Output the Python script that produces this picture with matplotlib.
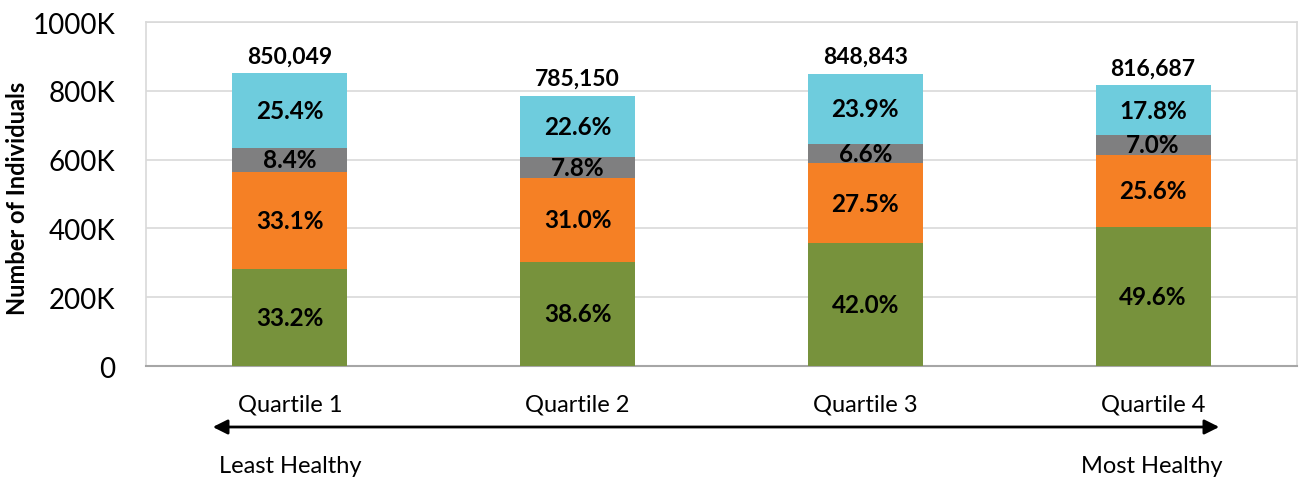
import numpy as np
import matplotlib.pyplot as plt
from matplotlib.patches import FancyArrowPatch

plt.rcParams['font.family'] = ['Lato', 'DejaVu Sans']

# data
quartiles = ['Quartile 1', 'Quartile 2', 'Quartile 3', 'Quartile 4']
totals = np.array([850049, 785150, 848843, 816687])
pct_green = np.array([33.2, 38.6, 42.0, 49.6])
pct_orange = np.array([33.1, 31.0, 27.5, 25.6])
pct_gray = np.array([8.4, 7.8, 6.6, 7.0])
pct_cyan = np.array([25.4, 22.6, 23.9, 17.8])

colors = ['#77923C', '#F58025', '#7F7F80', '#6ECCDD']
series = [pct_green, pct_orange, pct_gray, pct_cyan]

fig = plt.figure(figsize=(13.03, 4.81), dpi=100)
ax = fig.add_axes([0.112, 0.237, 0.8834, 0.715])

x = np.arange(len(quartiles))
bottom = np.zeros(len(quartiles))
for pct, col in zip(series, colors):
    h = totals * pct / 100
    ax.bar(x, h, 0.4, bottom=bottom, color=col, zorder=3)
    for xi, b, hi, p in zip(x, bottom, h, pct):
        ax.text(xi, b + hi / 2, f'{p:.1f}%', ha='center', va='center',
                fontsize=17.5, fontweight='bold', zorder=4)
    bottom = bottom + h

for xi, t in zip(x, totals):
    ax.text(xi, t + 20000, f'{t:,}', ha='center', va='bottom',
            fontsize=16.5, fontweight='bold')

ax.set_xlim(-0.5, 3.5)
ax.set_ylim(0, 1000000)
ax.set_yticks(np.arange(0, 1000001, 200000))
ax.set_yticklabels(['0'] + [f'{v // 1000}K' for v in range(200000, 1000001, 200000)])
ax.set_xticks(x)
ax.set_xticklabels(quartiles)
ax.tick_params(axis='y', length=0, labelsize=20, pad=22)
ax.tick_params(axis='x', length=0, labelsize=17, pad=20)
ax.grid(axis='y', color='#D9D9D9', lw=1.2, zorder=0)
for s in ['top', 'right', 'left']:
    ax.spines[s].set_color('#D9D9D9')
    ax.spines[s].set_linewidth(1.2)
ax.spines['bottom'].set_color('#A6A6A6')
ax.spines['bottom'].set_linewidth(1.5)
ax.set_ylabel('Number of Individuals', fontsize=17, fontweight='bold', va='center')
ax.yaxis.set_label_coords(-0.112, 0.49)

# healthiness arrow under the categories
arr = FancyArrowPatch((210 / 1303, 1 - 428 / 481), (1222 / 1303, 1 - 428 / 481),
                      transform=fig.transFigure, arrowstyle='<|-|>',
                      mutation_scale=22, lw=2, color='black')
fig.add_artist(arr)
fig.text(290 / 1303, 1 - 467 / 481, 'Least Healthy', ha='center', va='center', fontsize=17)
fig.text(1152 / 1303, 1 - 467 / 481, 'Most Healthy', ha='center', va='center', fontsize=17)

fig.savefig('out.png', dpi=100)
